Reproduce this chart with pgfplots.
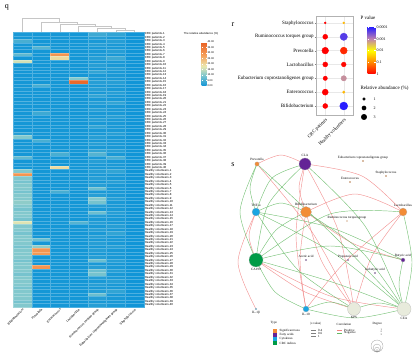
\documentclass[border=0pt]{standalone}
\usepackage{fontspec}
\setmainfont{Liberation Serif}
\newfontfamily\hsans{Liberation Sans}
\usepackage{pgfplots}
\pgfplotsset{compat=1.18}
\usepackage{pgfplotstable}
\usetikzlibrary{calc}
\newcommand\fs[1]{\fontsize{#1}{#1}\selectfont}
\definecolor{taxa}{RGB}{242,140,55}
\definecolor{fatty}{RGB}{100,35,150}
\definecolor{cyto}{RGB}{25,165,225}
\definecolor{crcind}{RGB}{0,155,70}
\definecolor{pale}{RGB}{232,235,220}
\definecolor{poscol}{RGB}{240,130,130}
\definecolor{negcol}{RGB}{100,185,100}

\pgfplotstableread{
r c1 c2 c3 c4 c5 c6 c7
1 1 0.5 0.5 0.5 4 3 0.2
2 0.5 0.5 0.5 0.5 2 1 0.2
3 5 0.5 0.5 0.5 1 2 0.2
4 0.5 0.5 0.5 0.5 2 1 0.2
5 0.5 6 0.5 0.5 1 1 0.2
6 0.5 0.5 0.5 0.5 1 2 0.2
7 7 0.5 30 0.5 1 1 0.2
8 0.5 0.5 20 0.5 2 4 0.2
9 16 0.5 0.5 0.5 1 1 0.2
10 0.5 0.5 0.5 0.5 2 1 0.2
11 1 0.5 0.5 0.5 1 2 0.2
12 0.5 0.5 0.5 0.5 3 1 0.2
13 0.5 0.5 0.5 0.5 1 1 0.2
14 0.5 0.5 0.5 10 1 1 0.2
15 0.5 0.5 0.5 38 2 2 0.2
16 0.5 5 0.5 0.5 1 1 0.2
17 1 0.5 0.5 0.5 2 1 0.2
18 0.5 0.5 0.5 0.5 1 2 0.2
19 0.5 0.5 0.5 0.5 3 1 0.2
20 0.5 0.5 0.5 0.5 1 1 0.2
21 1 0.5 0.5 0.5 2 3 0.2
22 0.5 0.5 0.5 0.5 1 1 0.2
23 0.5 0.5 0.5 0.5 2 1 0.2
24 0.5 4 0.5 0.5 1 1 0.2
25 0.5 0.5 0.5 0.5 1 2 0.2
26 1 0.5 0.5 0.5 2 1 0.2
27 0.5 0.5 0.5 0.5 1 1 0.2
28 0.5 0.5 0.5 0.5 3 1 0.2
29 0.5 0.5 0.5 0.5 1 1 0.2
30 2 0.5 0.5 0.5 1 2 0.2
31 10 0.5 0.5 0.5 2 1 0.2
32 0.5 5 0.5 0.5 1 1 0.2
33 0.5 0.5 0.5 0.5 2 1 0.2
34 1 0.5 0.5 0.5 1 1 0.2
35 0.5 0.5 0.5 0.5 3 2 0.2
36 0.5 0.5 5 0.5 6 1 0.2
37 7 0.5 0.5 0.5 1 5 0.2
38 0.5 0.5 0.5 0.5 2 1 0.2
39 1 0.5 0.5 0.5 1 1 0.2
40 0.5 0.5 20 0.5 1 1 0.2
41 10 0.5 0.5 0.5 2 3 0.2
42 30 0.5 0.5 0.5 1 1 0.2
43 10 0.5 0.5 0.5 2 1 0.2
44 9 0.5 0.5 0.5 1 2 0.2
45 10 0.5 0.5 0.5 2 1 0.2
46 10 0.5 0.5 0.5 8 1 0.2
47 9 0.5 5 0.5 1 1 0.2
48 10 0.5 0.5 0.5 2 1 0.2
49 10 0.5 0.5 0.5 10 2 0.2
50 11 0.5 0.5 0.5 9 1 0.2
51 10 0.5 0.5 0.5 2 1 0.2
52 9 0.5 0.5 0.5 1 1 0.2
53 10 0.5 0.5 0.5 8 2 0.2
54 10 0.5 0.5 0.5 2 1 0.2
55 9 0.5 0.5 0.5 1 1 0.2
56 17 0.5 0.5 6 2 1 0.2
57 10 0.5 0.5 0.5 1 2 0.2
58 10 0.5 0.5 0.5 2 1 0.2
59 9 0.5 0.5 0.5 1 3 0.2
60 10 0.5 0.5 0.5 2 1 0.2
61 10 8 0.5 0.5 1 1 0.2
62 10 0.5 0.5 0.5 2 1 0.2
63 9 11 0.5 0.5 1 2 0.2
64 10 30 0.5 0.5 2 1 0.2
65 10 29 0.5 0.5 1 1 0.2
66 10 0.5 0.5 0.5 2 1 0.2
67 9 0.5 0.5 0.5 8 2 0.2
68 10 0.5 0.5 0.5 1 1 0.2
69 10 30 0.5 0.5 2 1 0.2
70 10 0.5 0.5 0.5 8 2 0.2
71 9 0.5 0.5 0.5 9 1 0.2
72 10 0.5 0.5 0.5 2 1 0.2
73 10 0.5 0.5 0.5 1 2 0.2
74 10 0.5 0.5 0.5 2 1 0.2
75 9 0.5 0.5 0.5 1 1 0.2
76 10 0.5 0.5 0.5 2 3 0.2
77 10 0.5 0.5 0.5 8 1 0.2
78 10 0.5 0.5 0.5 2 1 0.2
79 9 0.5 0.5 0.5 1 1 0.2
80 10 0.5 0.5 0.5 2 1 0.2
}\heat

\pgfplotstableread{
x y ab lp
1 7 0.2 0
1 6 2.6 0
1 5 3.9 0
1 4 2.6 0
1 3 2.1 0
1 2 3.4 0
1 1 2.6 0
2 7 0.3 1.4
2 6 4.4 3.7
2 5 4.1 0.3
2 4 2.4 0.05
2 3 2.9 2.9
2 2 0.6 1.4
2 1 4.9 4
}\bubble

\pgfplotsset{
  hm/.style={scatter, only marks, mark=square*, mark size=1.715pt,
    mark options={xscale=5.456, line width=0.15pt}, point meta=explicit,
    scatter/use mapped color={draw=mapped color!75!white, fill=mapped color}},
  dend/.style={gray!45, line width=0.4pt, no marks},
  pos/.style={draw=poscol, line width=0.45pt, opacity=0.85, no marks, smooth},
  neg/.style={draw=negcol, line width=0.45pt, opacity=0.85, no marks, smooth},
  netnode/.style={scatter, only marks, mark=*, point meta=\thisrow{r},
    mark options={line width=0.2pt},
    visualization depends on={\thisrow{r} \as \rad},
    scatter/use mapped color={draw=gray!60, fill=#1},
    scatter/@pre marker code/.append style={/tikz/mark size=\rad}},
}

\begin{document}
\begin{tikzpicture}
\useasboundingbox (0,0) rectangle (420pt,355pt);

% ---------------- heatmap (q)
\begin{axis}[at={(78.5pt,185.5pt)}, anchor=center, scale only axis,
  width=131pt, height=274.4pt, xmin=-0.5, xmax=6.5, ymin=0.5, ymax=80.5,
  clip=false, axis line style={draw=none}, major tick length=0pt,
  xtick={0,...,6},
  xticklabels={Bifidobacterium,Prevotella,Enterococcus,Lactobacillus,Ruminococcus torques group,Eubacterium coprostanoligenes group,Staphylococcus},
  xticklabel style={rotate=45, anchor=north east, font=\hsans\fs{3.1pt}, inner sep=1pt},
  ytick={1,...,80}, yticklabel pos=right,
  yticklabel style={font=\hsans\fs{2.9pt}, inner sep=0.6pt, anchor=west},
  yticklabel={\pgfmathtruncatemacro{\rr}{81-\tick}\ifnum\rr<41 CRC patients-\rr\else\pgfmathtruncatemacro{\hh}{\rr-40}Healthy volunteers-\hh\fi},
  colormap={heat}{rgb255(0)=(15,148,215) rgb255(10)=(130,200,205) rgb255(18)=(235,232,175) rgb255(28)=(245,160,90) rgb255(40)=(232,95,35)},
  point meta min=0, point meta max=40,
  colorbar,
  colorbar style={at={($(parent axis.north east)+(49pt,-9.7pt)$)}, anchor=north west,
    scale only axis, width=5pt, height=44pt, ytick={0,5,...,40},
    yticklabel style={font=\hsans\fs{2.6pt}, inner sep=0.8pt, /pgf/number format/.cd, fixed, fixed zerofill, precision=2, assume math mode=true},
    major tick length=0.8pt, tick style={white}, axis line style={draw=none}},
]
\addplot[hm] table[x expr=0, y expr=81-\thisrow{r}, meta=c1] {\heat};
\addplot[hm] table[x expr=1, y expr=81-\thisrow{r}, meta=c2] {\heat};
\addplot[hm] table[x expr=2, y expr=81-\thisrow{r}, meta=c3] {\heat};
\addplot[hm] table[x expr=3, y expr=81-\thisrow{r}, meta=c4] {\heat};
\addplot[hm] table[x expr=4, y expr=81-\thisrow{r}, meta=c5] {\heat};
\addplot[hm] table[x expr=5, y expr=81-\thisrow{r}, meta=c6] {\heat};
\addplot[hm] table[x expr=6, y expr=81-\thisrow{r}, meta=c7] {\heat};
\addplot[white, line width=0.5pt, no marks] coordinates {(0.5,0.5)(0.5,80.5)};
\addplot[white, line width=0.5pt, no marks] coordinates {(1.5,0.5)(1.5,80.5)};
\addplot[white, line width=0.5pt, no marks] coordinates {(2.5,0.5)(2.5,80.5)};
\addplot[white, line width=0.5pt, no marks] coordinates {(3.5,0.5)(3.5,80.5)};
\addplot[white, line width=0.5pt, no marks] coordinates {(4.5,0.5)(4.5,80.5)};
\addplot[white, line width=0.5pt, no marks] coordinates {(5.5,0.5)(5.5,80.5)};
% dendrogram
\addplot[dend] coordinates {(5,80.6)(5,81.08)(6,81.08)(6,80.6)};
\addplot[dend] coordinates {(4,80.6)(4,81.67)(5.5,81.67)(5.5,81.08)};
\addplot[dend] coordinates {(3,80.6)(3,82.25)(4.75,82.25)(4.75,81.67)};
\addplot[dend] coordinates {(2,80.6)(2,82.92)(3.875,82.92)(3.875,82.25)};
\addplot[dend] coordinates {(1,80.6)(1,83.5)(2.9375,83.5)(2.9375,82.92)};
\addplot[dend] coordinates {(0,80.6)(0,84.5)(1.97,84.5)(1.97,83.5)};
\end{axis}

% ---------------- bubble plot (r)
\begin{axis}[at={(334.5pt,289.5pt)}, anchor=center, scale only axis,
  width=37pt, height=99pt, xmin=0.5, xmax=2.5, ymin=0.35, ymax=7.5,
  xtick={1,2}, xticklabels={CRC patients,Healthy volunteers},
  ytick={1,...,7},
  yticklabels={Bifidobacterium,Enterococcus,Eubacterium coprostanoligenes group,Lactobacillus,Prevotella,Ruminococcus torques group,Staphylococcus},
  xticklabel style={rotate=45, anchor=north east, font=\fs{4.8pt}, inner sep=1pt},
  yticklabel style={font=\fs{5pt}, inner sep=1pt},
  xtick pos=bottom, ytick pos=left,
  tick align=outside, major tick length=1.2pt, tick style={gray},
  axis line style={gray!60}, grid=major, grid style={gray!18, line width=0.3pt},
  colormap={pcol}{rgb255(0)=(255,0,0) rgb255(1)=(255,135,0) rgb255(2)=(255,255,0) rgb255(3)=(190,130,175) rgb255(4)=(40,30,255)},
  point meta min=0, point meta max=4,
  colorbar,
  colorbar style={at={($(parent axis.north east)+(6pt,-11pt)$)}, anchor=north west,
    scale only axis, width=8pt, height=47pt, ytick={0,1,2,3,4},
    yticklabels={1,0.1,0.01,0.001,0.0001},
    yticklabel style={font=\fs{4pt}, inner sep=1pt},
    major tick length=1.5pt, tick style={white}, axis line style={draw=none}},
]
\addplot[scatter, only marks, mark=*, point meta=explicit,
  visualization depends on={\thisrow{ab} \as \ab},
  scatter/use mapped color={draw=mapped color, fill=mapped color},
  scatter/@pre marker code/.append style={/tikz/mark size={0.8+0.65*\ab}}]
  table[x=x, y=y, meta=lp] {\bubble};
\end{axis}

% ---------------- canvas: network (s), legends, labels
\begin{axis}[at={(210pt,177.5pt)}, anchor=center, scale only axis,
  width=420pt, height=355pt, xmin=0, xmax=420, ymin=0, ymax=355,
  y dir=reverse, hide axis, clip=false]
% panel letters
\node[font=\fs{8pt}] at (7,7) {q};
\node[font=\fs{8pt}] at (233,25) {r};
\node[font=\fs{8pt}] at (233,165) {s};
% titles
\node[font=\hsans\fs{2.8pt}] at (201,34) {The relative abundance (\%)};
\node[font=\fs{5pt}, anchor=west] at (357,18) {P value};
\node[font=\fs{5pt}, anchor=west] at (357,88) {Relative abundance (\%)};
\addplot[only marks, mark=*, mark size=1.45pt, black] coordinates {(364,99)};
\addplot[only marks, mark=*, mark size=2.1pt, black] coordinates {(364,108)};
\addplot[only marks, mark=*, mark size=2.75pt, black] coordinates {(364,117)};
\node[font=\fs{4pt}, anchor=west] at (370,99) {1};
\node[font=\fs{4pt}, anchor=west] at (370,108) {2};
\node[font=\fs{4pt}, anchor=west] at (370,117) {3};

% positive edges
\addplot[pos] coordinates {(257,164)(281,155)(305,164)};
\addplot[pos] coordinates {(305,164)(362,176)(403,212)};
\addplot[pos] coordinates {(257,164)(312,232)(354,309)};
\addplot[pos] coordinates {(256,212)(238,262)(256,309)};
\addplot[pos] coordinates {(256,212)(249,236)(256,260)};
\addplot[pos] coordinates {(306,212)(355,194)(403,212)};
\addplot[pos] coordinates {(306,212)(322,262)(354,309)};
\addplot[pos] coordinates {(306,212)(300,260)(306,309)};
\addplot[pos] coordinates {(306,212)(352,243)(403,260)};
\addplot[pos] coordinates {(403,212)(372,256)(354,309)};
\addplot[pos] coordinates {(403,212)(345,262)(306,309)};
\addplot[pos] coordinates {(256,260)(303,291)(354,309)};
\addplot[pos] coordinates {(256,260)(330,296)(404,309)};
\addplot[pos] coordinates {(305,164)(296,236)(306,309)};
\addplot[pos] coordinates {(305,164)(299,188)(306,212)};
\addplot[pos] coordinates {(305,164)(338,230)(354,309)};
% negative edges
\addplot[neg] coordinates {(305,164)(272,178)(256,212)};
\addplot[neg] coordinates {(305,164)(268,205)(256,260)};
\addplot[neg] coordinates {(257,164)(240,212)(256,260)};
\addplot[neg] coordinates {(257,164)(334,236)(404,309)};
\addplot[neg] coordinates {(256,212)(281,203)(306,212)};
\addplot[neg] coordinates {(256,212)(298,270)(354,309)};
\addplot[neg] coordinates {(256,212)(335,254)(404,309)};
\addplot[neg] coordinates {(306,212)(276,230)(256,260)};
\addplot[neg] coordinates {(306,212)(362,252)(404,309)};
\addplot[neg] coordinates {(403,212)(330,214)(256,260)};
\addplot[neg] coordinates {(403,212)(412,262)(404,309)};
\addplot[neg] coordinates {(256,260)(275,292)(306,309)};
\addplot[neg] coordinates {(256,260)(330,246)(403,260)};
\addplot[neg] coordinates {(403,260)(399,285)(404,309)};
\addplot[neg] coordinates {(306,309)(330,302)(354,309)};
\addplot[neg] coordinates {(306,309)(355,318)(404,309)};
\addplot[neg] coordinates {(354,309)(379,303)(404,309)};
\addplot[neg] coordinates {(305,164)(365,226)(404,309)};
\addplot[neg] coordinates {(256,212)(332,228)(403,260)};
\addplot[neg] coordinates {(257,164)(250,188)(256,212)};
\addplot[neg] coordinates {(256,260)(335,283)(404,309)};

% nodes
\addplot[netnode=taxa] table {
x y r
257 164 2.2
306 212 5.5
403 212 4
363 161 0.8
386 176 0.8
350 182 0.8
347 221 0.6
};
\addplot[netnode=fatty] table {
x y r
305 164 6
306 260 0.9
348 260 0.9
403 260 2
375 273 0.9
};
\addplot[netnode=cyto] table {
x y r
256 212 4
256 309 0.9
306 309 3
};
\addplot[netnode=crcind] table {
x y r
256 260 7
};
\addplot[netnode=pale] table {
x y r
354 309 6.5
404 309 7
};
% node labels
\begin{scope}[every node/.style={font=\fs{3.3pt}, inner sep=0.5pt}]
\node[anchor=south] at (257,161.5) {Prevotella};
\node[anchor=south] at (305,157.5) {CLA};
\node[anchor=south] at (363,159.5) {Eubacterium coprostanoligenes group};
\node[anchor=south] at (386,174.5) {Staphylococcus};
\node[anchor=south] at (350,180.5) {Enterococcus};
\node[anchor=south] at (256,207.5) {TNF-α};
\node[anchor=south] at (306,206) {Bifidobacterium};
\node[anchor=south] at (403,207.5) {Lactobacillus};
\node[anchor=south] at (347,219.5) {Ruminococcus torques group};
\node[anchor=north] at (256,267.5) {CA199};
\node[anchor=south] at (306,258.5) {Acetic acid};
\node[anchor=south] at (348,258.5) {Propanoic acid};
\node[anchor=south] at (403,257.5) {Butyric acid};
\node[anchor=south] at (375,271.5) {Isobutyric acid};
\node[anchor=north] at (256,310.5) {IL-1β};
\node[anchor=north] at (306,312.5) {IL-10};
\node[anchor=north] at (354,316) {KPS};
\node[anchor=north] at (404,316.5) {CEA};
\end{scope}

% legend of network
\begin{scope}[every node/.style={font=\fs{3.2pt}, inner sep=0.5pt, anchor=west}]
\node at (270,323) {Type};
\node at (279,331) {Significant taxa};
\node at (279,335) {Fatty acids};
\node at (279,339) {Cytokines};
\node at (279,343) {CRC indices};
\node at (310,324) {|r-value|};
\node at (317.5,330) {0.4};
\node at (317.5,333) {0.6};
\node at (317.5,336) {1};
\node at (336,324) {Correlation};
\node at (343.5,330) {Positive};
\node at (343.5,333) {Negative};
\node at (372,324) {Degree};
\node[font=\fs{2.4pt}] at (380,329.5) {1};
\node[font=\fs{2.4pt}] at (380,332) {2};
\node[font=\fs{2.4pt}] at (380,334.5) {3};
\end{scope}
\addplot[only marks, mark=square*, mark size=1.5pt, taxa] coordinates {(275,331)};
\addplot[only marks, mark=square*, mark size=1.5pt, fatty] coordinates {(275,335)};
\addplot[only marks, mark=square*, mark size=1.5pt, cyto] coordinates {(275,339)};
\addplot[only marks, mark=square*, mark size=1.5pt, crcind] coordinates {(275,343)};
\addplot[gray, line width=0.2pt, no marks] coordinates {(311,330)(316,330)};
\addplot[gray, line width=0.4pt, no marks] coordinates {(311,333)(316,333)};
\addplot[gray, line width=0.7pt, no marks] coordinates {(311,336)(316,336)};
\addplot[poscol, line width=0.5pt, no marks] coordinates {(337,330)(342,330)};
\addplot[negcol, line width=0.5pt, no marks] coordinates {(337,333)(342,333)};
\addplot[only marks, mark=o, mark size=1.2pt, gray, mark options={line width=0.2pt}] coordinates {(377,350.8)};
\addplot[only marks, mark=o, mark size=2.4pt, gray, mark options={line width=0.2pt}] coordinates {(377,349.6)};
\addplot[only marks, mark=o, mark size=4pt, gray, mark options={line width=0.2pt}] coordinates {(377,348)};
\addplot[only marks, mark=o, mark size=6pt, gray, mark options={line width=0.2pt}] coordinates {(377,346)};
\end{axis}
\end{tikzpicture}
\end{document}
